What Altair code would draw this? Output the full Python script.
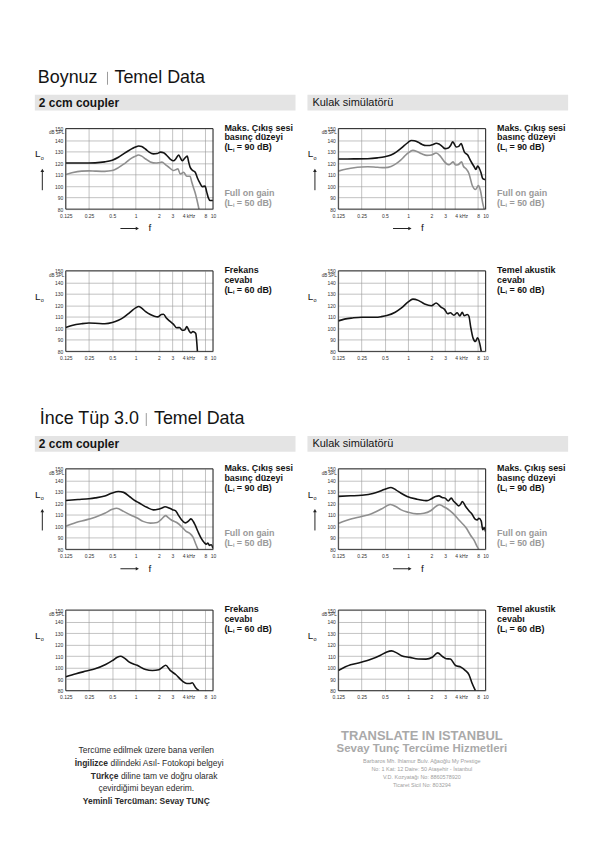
import altair as alt
import pandas as pd

FONT = "Liberation Sans"
BLACK = "#141414"
GRAY = "#8f8f8f"

# ---------------- Boynuz | 2 ccm coupler ----------------
horn_cpl_max_f = [0.125,0.2,0.3,0.4,0.5,0.6,0.7,0.8,0.9,1.0,1.1,1.2,1.35,1.5,1.7,1.9,2.1,2.3,2.5,2.8,3.1,3.3,3.6,3.8,4.0,4.3,4.65,4.85,5.1,5.5,5.9,6.3,6.8,7.3,7.9,8.3,8.7,9.2,10]
horn_cpl_max_db = [120,120,120.2,121,122.5,125,128,130.5,132.5,134,134.8,134.3,132,129.5,128,128.3,129.5,129,127,123.5,122,123.5,127,124.5,122,124,126,121,116,113.5,112,107,102.5,99.5,100,95,90,87.5,87.5]
horn_cpl_gain_f = [0.125,0.15,0.2,0.25,0.3,0.4,0.5,0.6,0.7,0.8,0.9,1.0,1.08,1.2,1.35,1.55,1.84,2.0,2.19,2.45,2.73,3.1,3.35,3.53,3.77,3.95,4.16,4.6,5.07,5.3,5.58,5.9,6.16,6.6]
horn_cpl_gain_db = [110,111.5,113,113.2,113,112.8,113.5,116,119,122,124.5,126,127,126,123.5,121,120,120.3,120.8,118.5,116,113.5,114.5,115,110.5,111,112,108.6,108.5,104,99,94,89,80]
horn_cpl_freq_f = [0.125,0.15,0.2,0.25,0.3,0.4,0.5,0.6,0.7,0.8,0.9,1.0,1.1,1.2,1.35,1.55,1.75,1.95,2.15,2.3,2.5,2.8,3.1,3.4,3.7,4.0,4.3,4.6,4.9,5.2,5.5,5.8,6.0,6.3]
horn_cpl_freq_db = [100.8,102.5,104,104.6,104.5,104,105,107,109.5,112.5,115.5,117.8,119,117.5,114.5,112,110.5,110,112,112.3,109,106,103.5,100.5,100.8,98.3,98.5,101.5,98,96,97.3,96.5,95.5,80]

# ---------------- Boynuz | Kulak simulatoru ----------------
horn_ear_max_f = [0.125,0.2,0.3,0.4,0.5,0.6,0.7,0.8,0.9,1.0,1.1,1.2,1.35,1.5,1.7,1.9,2.1,2.3,2.5,2.75,3.0,3.3,3.55,3.77,3.95,4.16,4.5,4.85,5.05,5.33,5.88,6.3,6.6,7.1,7.5,7.9,8.3,8.7,9.2,10]
horn_ear_max_db = [123.5,123.6,123.8,124.5,125.5,127,129.5,132.5,135.5,138,139.6,139.3,138,136.3,135.2,135.3,136.2,137.2,136.5,134.5,132.5,133,135.5,138.5,136.5,134,134.5,137,134,129.5,127,123,120.5,117,114.5,117.5,115.5,112,106.5,105.5]
horn_ear_gain_f = [0.125,0.16,0.2,0.25,0.3,0.4,0.5,0.6,0.7,0.8,0.9,1.0,1.15,1.3,1.5,1.75,2.0,2.3,2.6,2.95,3.2,3.4,3.8,4.1,4.4,4.9,5.2,5.6,6.1,6.7,7.4,8.1,8.6,9.2,9.6]
horn_ear_gain_db = [113,114.8,116,116.6,116.8,116.3,116,117,119.5,122.5,126,128.8,131,130,128,126.7,127,128.7,126,121,119,118.5,121,118.3,118.5,121,117,115,111,101,97,100.4,96,85,80]
horn_ear_freq_f = [0.125,0.15,0.19,0.25,0.38,0.45,0.53,0.68,0.82,1.0,1.15,1.35,1.63,2.0,2.3,2.65,2.95,3.25,3.5,3.9,4.3,4.65,5.0,5.3,5.8,6.1,6.4,6.9,7.4,7.9,8.4,8.8]
horn_ear_freq_db = [106.5,108,109,109.7,109.7,110.2,111.1,114,117.7,123,125.4,124.3,121.2,119.7,122,118.5,116.5,112.7,113.5,111.4,113.5,110.8,114,111,112,110.5,102,91.5,88.6,91.8,87,80]

# ---------------- Ince Tup 3.0 | 2 ccm coupler ----------------
tube_cpl_max_f = [0.125,0.18,0.25,0.3,0.4,0.5,0.6,0.7,0.85,1.0,1.1,1.4,1.7,1.95,2.2,2.4,2.7,3.0,3.3,3.55,3.9,4.4,4.9,5.2,5.6,5.9,6.4,7.0,7.7,8.2,8.6,9.0,9.5,10]
tube_cpl_max_db = [122.5,123.3,124,124.7,126.3,129,130.2,129.5,125.5,122,120.5,116.5,114.3,114.8,116,117,116,114.5,113.5,110,106,103,105,106.5,104,101,95.5,90,86,84.5,85.5,83.5,84,81]
tube_cpl_gain_f = [0.125,0.17,0.23,0.3,0.4,0.5,0.57,0.7,0.85,1.05,1.25,1.55,1.9,2.15,2.45,2.65,2.9,3.4,3.9,4.5,5.0,5.5,6.05,6.4]
tube_cpl_gain_db = [100,103.3,105.6,108,111.3,114.8,115.7,113,110,107.2,104.3,102.8,103.3,106,109.3,107.5,105.5,103.3,100,95.6,94,90.8,84,80]
tube_cpl_freq_f = [0.125,0.17,0.23,0.3,0.41,0.5,0.58,0.64,0.71,0.82,1.05,1.35,1.65,2.0,2.2,2.45,2.8,3.3,4.0,4.6,5.0,5.4,5.95,6.4,6.6]
tube_cpl_freq_db = [92,94.7,97,99,102.7,106,109,109.8,108.5,105,102,98.3,97.5,98.2,100,102,97.6,94,88.5,86.2,86.2,86.8,82.8,80.6,80]

# ---------------- Ince Tup 3.0 | Kulak simulatoru ----------------
tube_ear_max_f = [0.125,0.18,0.25,0.35,0.45,0.52,0.6,0.7,0.8,0.97,1.3,1.6,1.75,2.0,2.25,2.5,2.75,3.0,3.3,3.6,3.9,4.2,4.5,4.8,5.0,5.5,6.1,6.7,7.4,7.8,8.2,8.8,9.2,9.6,10]
tube_ear_max_db = [126,126.5,127,128.5,131,132.7,133.7,131.5,129,126,123.6,122.5,122.3,124,126,126.5,125,124.5,122,124.5,121.5,119.5,117.8,119.5,121.6,117.5,113.5,110.5,106,105.5,107,104.5,97,99,95.5]
tube_ear_gain_f = [0.125,0.187,0.25,0.33,0.45,0.52,0.59,0.7,0.8,1.0,1.3,1.6,1.95,2.3,2.55,2.8,3.1,3.8,4.6,5.6,6.4,7.1,7.8,8.2]
tube_ear_gain_db = [102.5,106.5,108.5,110.8,115,117.5,119,117,114.5,112.2,110.8,111.3,113.5,117.5,118.7,117.5,115.9,111.3,105,98.8,92.3,88,82.3,80]
tube_ear_freq_f = [0.125,0.18,0.24,0.33,0.44,0.53,0.61,0.71,0.82,1.05,1.35,1.7,2.05,2.4,2.8,3.1,3.5,4.1,4.8,5.5,6.1,6.7,7.4]
tube_ear_freq_db = [97.5,102.4,104.4,107.2,110.8,113.6,114.5,112.8,110.3,108.9,107.5,107.4,109,112.8,109.4,107.7,107.5,101.8,100.4,97.4,94,86.4,80]

X_TICKS = [0.125, 0.25, 0.5, 1, 2, 3, 4, 8, 10]
Y_TICKS = [80, 90, 100, 110, 120, 130, 140, 150]

PW, PH = 148, 81
ONE = pd.DataFrame({"k": [0]})


def txt(s, x, y, size=9, weight="normal", color=BLACK, align="left", baseline="middle"):
    return alt.Chart(ONE).mark_text(
        text=s, fontSize=size, fontWeight=weight, color=color, align=align,
        baseline=baseline, font=FONT
    ).encode(x=alt.value(x), y=alt.value(y))


def rule(x, y, x2=None, y2=None, color="#222", width=1.0):
    enc = dict(x=alt.value(x), y=alt.value(y))
    if x2 is not None:
        enc["x2"] = alt.value(x2)
    if y2 is not None:
        enc["y2"] = alt.value(y2)
    return alt.Chart(ONE).mark_rule(color=color, strokeWidth=width).encode(**enc)


def tri(shape, x, y, size=14, color="#222"):
    return alt.Chart(ONE).mark_point(
        shape=shape, filled=True, size=size, color=color, opacity=1
    ).encode(x=alt.value(x), y=alt.value(y))


def box(x, y, x2, y2, fill):
    return alt.Chart(ONE).mark_rect(color=fill).encode(
        x=alt.value(x), x2=alt.value(x2), y=alt.value(y), y2=alt.value(y2))


def blank(w, h):
    return alt.Chart(ONE).mark_point(opacity=0).encode(
        x=alt.value(0), y=alt.value(0)).properties(width=w, height=h)


def xenc():
    return alt.X(
        "f:Q",
        scale=alt.Scale(type="log", domain=[0.125, 10], nice=False),
        axis=alt.Axis(
            values=X_TICKS, title=None, grid=True, ticks=False, domain=False,
            labelExpr="datum.value == 4 ? '4 kHz' : toString(datum.value)",
            labelAlign={"condition": {"test": "datum.value == 4", "value": "left"}, "value": "center"},
            labelFontSize=5, labelPadding=4, labelColor="#333",
            gridColor="#9a9a9a", gridWidth=0.6, labelFlush=False, labelOverlap=False,
        ),
    )


def yenc():
    return alt.Y(
        "L:Q",
        scale=alt.Scale(domain=[80, 150], nice=False, zero=False),
        axis=alt.Axis(
            values=Y_TICKS, title=None, grid=True, ticks=False, domain=False,
            labelFontSize=5, labelPadding=3, labelColor="#333",
            gridColor="#9a9a9a", gridWidth=0.6, labelFlush=False,
        ),
    )


def curve(f, db, color):
    df = pd.DataFrame({"f": f, "L": db})
    return alt.Chart(df).mark_line(
        color=color, strokeWidth=1.6, clip=True, interpolate="monotone"
    ).encode(x=xenc(), y=yenc())


def li_label(x, y, value, color):
    return [
        txt("(L", x, y, 9, "bold", color),
        txt("i", x + 8.6, y + 2.5, 5.5, "bold", color),
        txt(f"= {value} dB)", x + 12.5, y, 9, "bold", color),
    ]


def panel(black, gray=None, labels=(), li=90, arrows=True):
    layers = []
    if gray is not None:
        layers.append(curve(gray[0], gray[1], GRAY))
    layers.append(curve(black[0], black[1], BLACK))
    # frame
    layers.append(alt.Chart(ONE).mark_rect(filled=False, stroke="#222", strokeWidth=0.9).encode(
        x=alt.value(0), x2=alt.value(PW), y=alt.value(0), y2=alt.value(PH)))
    layers.append(txt("dB SPL", -1.5, 5, 4.5, color="#333", align="right"))
    layers.append(txt("L", -28, 26, 10, align="center"))
    layers.append(txt("o", -23.5, 29.5, 5.5, align="center"))
    if arrows:
        layers.append(rule(-23.5, 43, y2=62, width=1))
        layers.append(tri("triangle-up", -23.5, 42, size=14))
        layers.append(rule(55, 100.5, x2=71, width=1))
        layers.append(tri("triangle-right", 72, 100.5, size=14))
        layers.append(txt("f", 84.5, 100.5, 10, align="center"))
    tx = 159.5
    for i, s in enumerate(labels):
        layers.append(txt(s, tx, -1 + 10 * i, 9, "bold", BLACK))
    layers += li_label(tx, 19, li, BLACK)
    if gray is not None:
        layers.append(txt("Full on gain", tx, 64.5, 9, "bold", "#9a9a9a"))
        layers += li_label(tx, 74.5, 50, "#9a9a9a")
    return alt.layer(*layers).properties(width=PW, height=PH)


def header(left_title, left_x, sep_x, right_x, h):
    layers = [
        txt(left_title, left_x, 68, 18),
        rule(sep_x, 62, y2=75, color="#9a9a9a", width=1),
        txt("Temel Data", right_x, 68, 18),
        box(24, 85, 286, 101, "#e4e4e4"),
        box(298, 85, 560, 101, "#e4e4e4"),
        txt("2 ccm coupler", 28, 93, 12, "bold"),
        txt("Kulak simülatörü", 303, 93, 11),
    ]
    return alt.layer(*layers).properties(width=584, height=h)


def row(left, right):
    # with flush bounds a nested concat adds no height: the following blank supplies it
    return alt.hconcat(blank(54.5, PH), left, blank(126, PH), right, spacing=0, bounds="flush")


MAKS = ["Maks. Çıkış sesi", "basınç düzeyi"]

p1 = panel((horn_cpl_max_f, horn_cpl_max_db), (horn_cpl_gain_f, horn_cpl_gain_db), MAKS, 90)
p2 = panel((horn_ear_max_f, horn_ear_max_db), (horn_ear_gain_f, horn_ear_gain_db), MAKS, 90)
p3 = panel((horn_cpl_freq_f, horn_cpl_freq_db), None, ["Frekans", "cevabı"], 60, arrows=False)
p4 = panel((horn_ear_freq_f, horn_ear_freq_db), None, ["Temel akustik", "cevabı"], 60, arrows=False)
p5 = panel((tube_cpl_max_f, tube_cpl_max_db), (tube_cpl_gain_f, tube_cpl_gain_db), MAKS, 90)
p6 = panel((tube_ear_max_f, tube_ear_max_db), (tube_ear_gain_f, tube_ear_gain_db), MAKS, 90)
p7 = panel((tube_cpl_freq_f, tube_cpl_freq_db), None, ["Frekans", "cevabı"], 60, arrows=False)
p8 = panel((tube_ear_freq_f, tube_ear_freq_db), None, ["Temel akustik", "cevabı"], 60, arrows=False)

FT = "#2b2b2b"
footer_layers = [
    txt("Tercüme edilmek üzere bana verilen", 136, 60, 8.5, color=FT, align="center"),
    txt("İngilizce", 97.5, 73, 8.5, "bold", FT, align="right"),
    txt("dilindeki Asıl- Fotokopi belgeyi", 100, 73, 8.5, color=FT, align="left"),
    txt("Türkçe", 108, 86, 8.5, "bold", FT, align="right"),
    txt("diline tam ve doğru olarak", 110.5, 86, 8.5, color=FT, align="left"),
    txt("çevirdiğimi beyan ederim.", 136, 98, 8.5, color=FT, align="center"),
    txt("Yeminli Tercüman: Sevay TUNÇ", 136, 111, 8.5, "bold", FT, align="center"),
    txt("TRANSLATE IN ISTANBUL", 413, 46, 13, "bold", "#a9a9a9", align="center"),
    txt("Sevay Tunç Tercüme Hizmetleri", 413, 59, 11.5, "bold", "#a9a9a9", align="center"),
    txt("Barbaros Mh. Ihlamur Bulv. Ağaoğlu My Prestige", 413, 71, 5.5, color="#a0a0a0", align="center"),
    txt("No: 1 Kat: 12 Daire: 50 Ataşehir - İstanbul", 413, 79, 5.5, color="#a0a0a0", align="center"),
    txt("V.D. Kozyatağı No: 8860578920", 413, 87, 5.5, color="#a0a0a0", align="center"),
    txt("Ticaret Sicil No: 803294", 413, 95, 5.5, color="#a0a0a0", align="center"),
]
footer = alt.layer(*footer_layers).properties(width=584, height=150)

chart = alt.vconcat(
    header("Boynuz", 27, 97, 104, 118.5),
    row(p1, p2),
    blank(584, PH + 61.5),
    row(p3, p4),
    blank(584, PH),
    header("İnce Tüp 3.0", 29, 136, 143.7, 118),
    row(p5, p6),
    blank(584, PH + 61),
    row(p7, p8),
    blank(584, PH),
    footer,
    spacing=0, bounds="flush", padding=0, background="white",
).configure(font=FONT).configure_view(stroke=None)

chart.save("out.html", embed_options={"renderer": "svg", "actions": False})
